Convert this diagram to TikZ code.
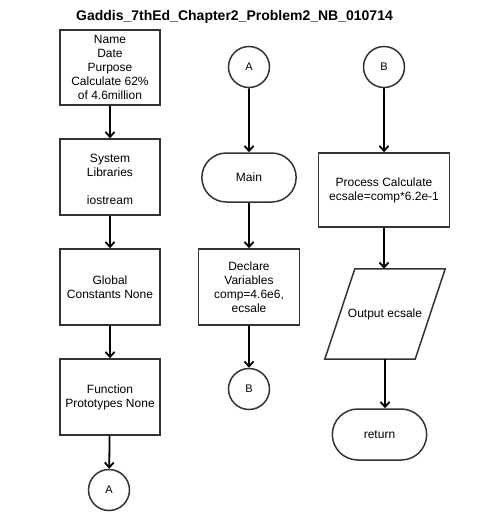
\documentclass[tikz,border=0pt]{standalone}
\usepackage{fontspec}
\setmainfont{Liberation Sans}
\usetikzlibrary{arrows.meta,shapes.misc}
\definecolor{ChartLine}{RGB}{51,51,51}

\begin{document}
\begin{tikzpicture}[x=1pt,y=-1pt,
    chartbox/.style={draw=ChartLine, line width=1.5pt, rectangle, align=center,
        font=\fontsize{12}{14}\selectfont, minimum width=100pt, minimum height=75pt},
    terminal/.style={draw=ChartLine, line width=1.5pt, rounded rectangle,
        font=\fontsize{12}{14}\selectfont, minimum width=101pt, minimum height=50pt},
    connector/.style={draw=ChartLine, line width=1.5pt, circle,
        font=\fontsize{11}{13}\selectfont, minimum size=41pt, inner sep=0pt},
    flow/.style={-{Straight Barb[length=5pt,width=9pt,line width=1.8pt]}, line width=1.8pt, black}]
    \useasboundingbox (0,0) rectangle (484,530);
    % Title
    \node[font=\fontsize{14}{16}\selectfont\bfseries] (title) at (234.5,17) {Gaddis\_7thEd\_Chapter2\_Problem2\_NB\_010714};
    % Draw nodes, left column
    \node[chartbox] (head) at (110,67.5) {Name\\Date\\Purpose\\Calculate 62\%\\of 4.6million};
    \node[chartbox, minimum height=76pt] (libs) at (110,177) {{}\\System\\Libraries\\ \\iostream};
    \node[chartbox, minimum height=76pt] (glob) at (110,287) {Global\\Constants None};
    \node[chartbox, minimum height=76pt] (proto) at (110,397) {Function\\Prototypes None};
    \node[connector] (offA) at (109,490) {A};
    % Draw nodes, middle column
    \node[connector] (onA) at (249,67) {A};
    \node[terminal, minimum height=49pt] (main) at (249,177.5) {Main};
    \node[chartbox, minimum width=101pt, minimum height=76pt] (decl) at (249,287) {Declare\\Variables\\comp=4.6e6,\\ecsale};
    \node[connector] (offB) at (249,389) {B};
    % Draw nodes, right column
    \node[connector] (onB) at (384,67) {B};
    \node[chartbox, minimum width=131pt, minimum height=74pt] (calc) at (384,190) {Process Calculate\\ecsale=comp*6.2e-1};
    \node[minimum width=90pt, minimum height=90pt, font=\fontsize{12}{14}\selectfont] (out) at (385,314) {Output ecsale};
    \draw[ChartLine, line width=1.5pt, line join=miter]
        ([xshift=15pt]out.north west) -- ([xshift=15pt]out.north east)
        -- ([xshift=-15pt]out.south east) -- ([xshift=-15pt]out.south west) -- cycle;
    \node[terminal, minimum height=51pt] (ret) at (379.5,434.5) {return};
    % Draw flow links
    \draw[flow] (head) -- (libs);
    \draw[flow] (libs) -- (glob);
    \draw[flow] (glob) -- (proto);
    \draw[flow] (proto) -- (offA);
    \draw[flow] (onA) -- (main);
    \draw[flow] (main) -- (decl);
    \draw[flow] (decl) -- (offB);
    \draw[flow] (onB) -- (calc);
    \draw[flow] (calc.south) -- (calc.south |- out.north);
    \draw[flow] (out.south) -- (out.south |- ret.north);
\end{tikzpicture}
\end{document}
